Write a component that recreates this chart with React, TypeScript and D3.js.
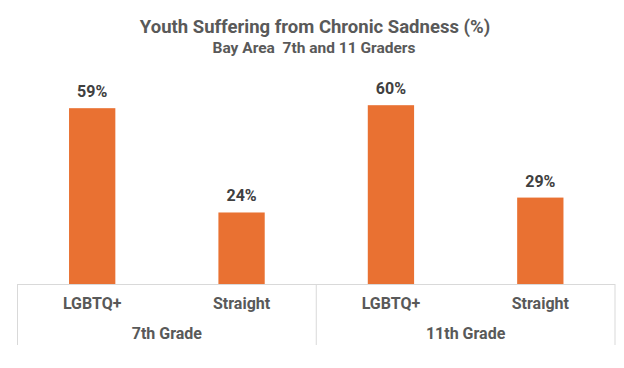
import React from "react";
import * as d3 from "d3";

const groups = ["7th Grade", "11th Grade"];
const categories = ["LGBTQ+", "Straight"];
const values = [59, 24, 60, 29];
const title = "Youth Suffering from Chronic Sadness (%)";
const subtitle = "Bay Area  7th and 11 Graders";

const W = 624, H = 368;
const left = 17.5, right = 615, axisY = 284, bottomY = 345;
const FONT = "Roboto, 'Noto Sans', sans-serif";

export default function App() {
  const items = groups.flatMap((g, gi) => categories.map((c, ci) => ({ g, c, v: values[gi * categories.length + ci], key: `${g}|${c}` })));
  const x = d3.scaleBand<string>().domain(items.map(d => d.key)).range([left, right]).paddingInner(0.69).paddingOuter(0.345);
  const xOuter = d3.scaleBand<string>().domain(items.map(d => d.key)).range([left, right]);
  const gScale = d3.scaleBand<string>().domain(groups).range([left, right]);
  const y = d3.scaleLinear().domain([0, 100]).range([axisY, axisY - 298]);

  return (
    <div style={{ position: "absolute", left: 0, top: 0 }}>
      <svg width={W} height={H} style={{ display: "block", fontFamily: FONT }}>
        <rect width={W} height={H} fill="#fff" />
        <text x={315} y={33} textAnchor="middle" fontSize={18.5} fontWeight={700} fill="#595959">{title}</text>
        <text x={314} y={53} textAnchor="middle" fontSize={15.5} fontWeight={700} fill="#595959" style={{ whiteSpace: "pre" }}>{subtitle}</text>
        {items.map(d => (
          <g key={d.key}>
            <rect x={x(d.key)} y={y(d.v)} width={x.bandwidth()} height={axisY - y(d.v)} fill="#E97132" />
            <text x={x(d.key)! + x.bandwidth() / 2} y={y(d.v) - 11} textAnchor="middle" fontSize={16} fontWeight={700} fill="#404040">{d.v}%</text>
            <text x={xOuter(d.key)! + xOuter.bandwidth() / 2} y={309} textAnchor="middle" fontSize={16} fontWeight={700} fill="#595959">{d.c}</text>
          </g>
        ))}
        <line x1={left} x2={right} y1={axisY + 0.5} y2={axisY + 0.5} stroke="#D9D9D9" strokeWidth={1} />
        {[...groups.map(g => gScale(g)!), right].map((xx, i) => (
          <line key={i} x1={xx} x2={xx} y1={axisY} y2={bottomY} stroke="#D9D9D9" strokeWidth={1} />
        ))}
        {groups.map(g => (
          <text key={g} x={gScale(g)! + gScale.bandwidth() / 2} y={339} textAnchor="middle" fontSize={16} fontWeight={700} fill="#595959">{g}</text>
        ))}
      </svg>
    </div>
  );
}
